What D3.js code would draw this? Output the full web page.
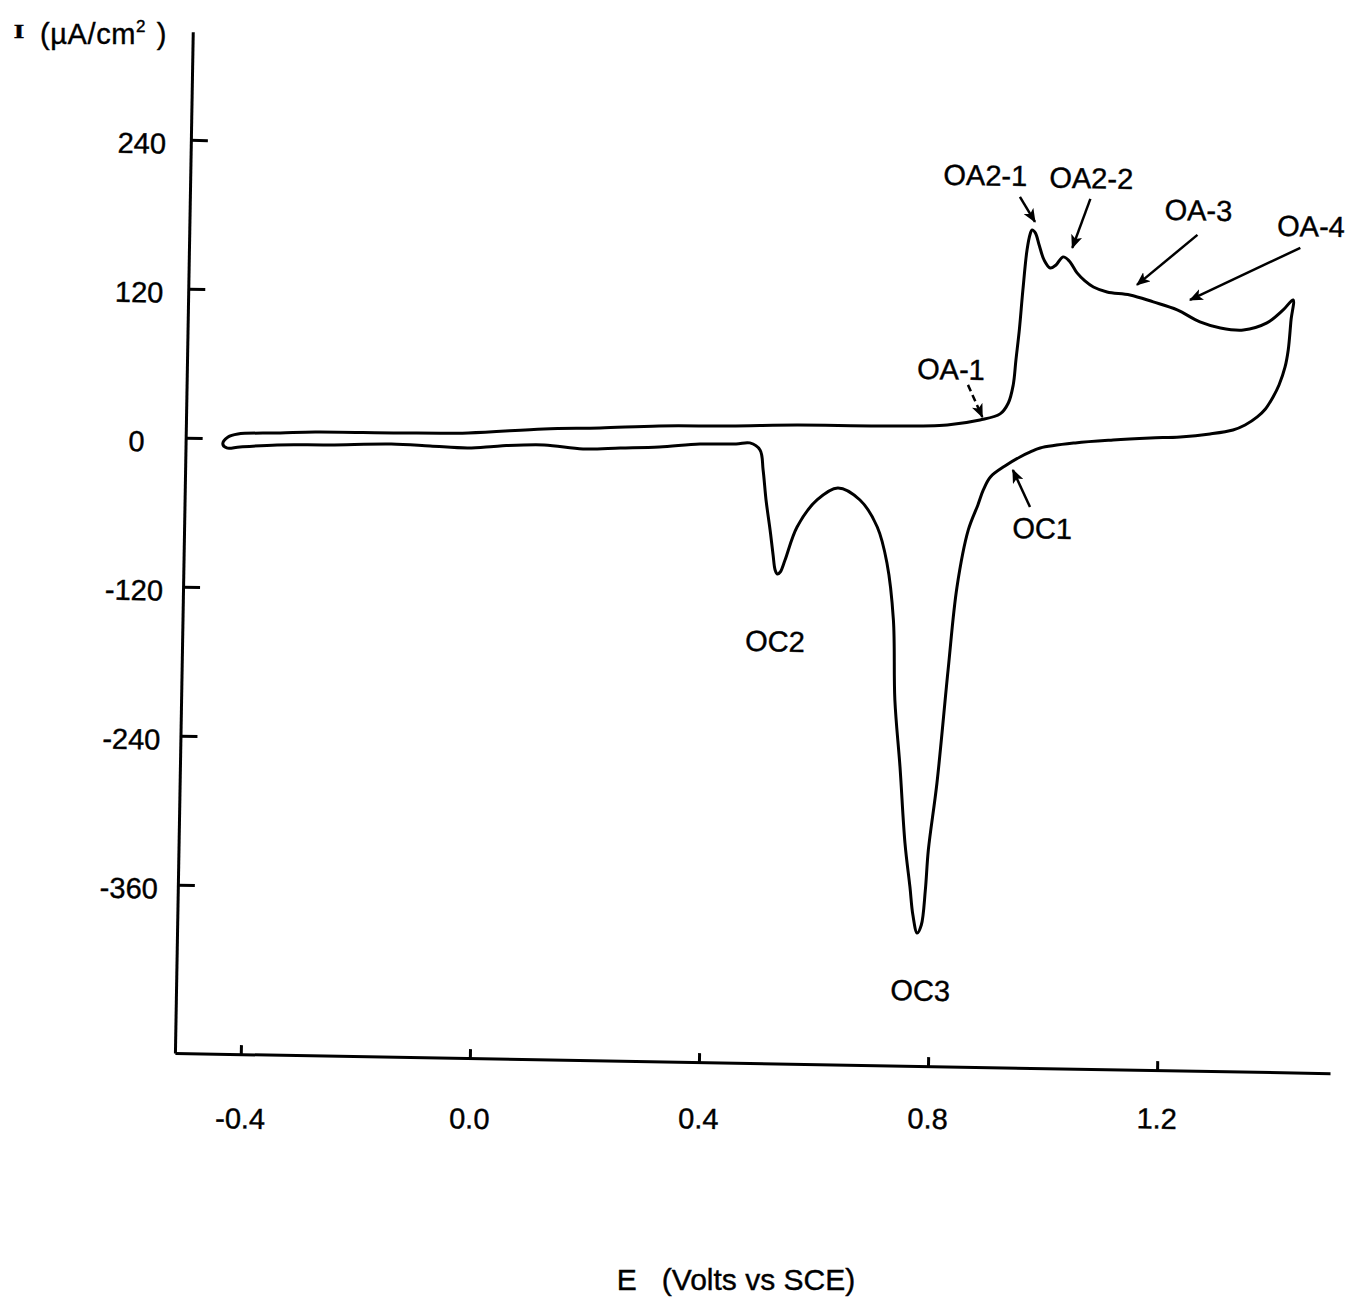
<!DOCTYPE html>
<html>
<head>
<meta charset="utf-8">
<script src="https://cdn.jsdelivr.net/npm/d3@7"></script>
<style>
  body { margin: 0; background: #fff; }
  text { font-family: "Liberation Sans", Arial, Helvetica, sans-serif; fill: #000; stroke: #000; stroke-width: 0.4px; }
</style>
</head>
<body>
<svg id="chart" width="1351" height="1300"></svg>
<script>
// Cyclic voltammogram, current density I (µA/cm²) against potential E (V vs SCE).
// Anodic sweep (upper branch), from the negative limit up to the switching potential.
const potentialFwd = [-0.450, -0.441, -0.424, -0.350, -0.289, -0.141, -0.022, 0.110, 0.208, 0.311,
  0.435, 0.552, 0.697, 0.814, 0.871, 0.906, 0.920, 0.928, 0.932, 0.937,
  0.942, 0.948, 0.953, 0.956, 0.962, 0.969, 0.978, 0.989, 0.999, 1.011,
  1.022, 1.036, 1.050, 1.065, 1.089, 1.129, 1.170, 1.212, 1.252, 1.288,
  1.328, 1.369, 1.397, 1.414];
const currentFwd = [-4.4, 1.3, 3.8, 5.2, 6.5, 6.9, 7.9, 12.2, 13.8, 16.2,
  17.2, 18.9, 19.3, 21.1, 25.5, 30.7, 39.6, 54.2, 74.4, 98.6,
  130.8, 163.1, 176.0, 179.3, 176.9, 167.3, 155.3, 148.9, 151.4, 158.0,
  154.8, 145.3, 139.0, 134.2, 130.4, 128.3, 123.0, 116.9, 107.6, 103.0,
  101.7, 107.7, 118.4, 126.6];

// Cathodic sweep (lower branch), back from the switching potential.
const potentialRev = [1.411, 1.407, 1.402, 1.392, 1.382, 1.369, 1.355, 1.334, 1.313, 1.273,
  1.221, 1.169, 1.104, 1.038, 0.977, 0.960, 0.942, 0.916, 0.891, 0.879,
  0.870, 0.854, 0.836, 0.823, 0.807, 0.794, 0.790, 0.784, 0.777, 0.769,
  0.763, 0.753, 0.742, 0.731, 0.726, 0.713, 0.695, 0.664, 0.625, 0.589,
  0.555, 0.535, 0.527, 0.522, 0.518, 0.514, 0.508, 0.500, 0.494, 0.488,
  0.470, 0.446, 0.383, 0.312, 0.244, 0.179, 0.111, 0.034, -0.022, -0.088,
  -0.156, -0.263, -0.355, -0.420, -0.443];
const currentRev = [110.4, 86.2, 72.5, 57.9, 48.2, 38.4, 31.9, 25.2, 21.0, 17.5,
  14.7, 13.4, 11.3, 8.4, 3.8, 0.5, -3.7, -11.2, -20.2, -30.8,
  -42.9, -63.2, -109.3, -176.2, -267.4, -321.5, -353.7, -382.0, -388.5, -374.1,
  -351.5, -316.2, -255.0, -201.2, -136.7, -90.9, -62.1, -40.6, -31.2, -41.2,
  -63.2, -90.0, -99.7, -101.3, -98.1, -86.1, -66.0, -41.9, -17.8, -1.7,
  3.8, 2.8, 2.2, -0.7, -2.1, -3.4, -0.7, -2.1, -4.2, -3.1,
  -2.1, -3.7, -4.5, -6.6, -7.6];

// Axes
const xTicks = [-0.4, 0.0, 0.4, 0.8, 1.2];
const xTickLabels = ["-0.4", "0.0", "0.4", "0.8", "1.2"];
const yTicks = [240, 120, 0, -120, -240, -360];
const yTickLabels = ["240", "120", "0", "-120", "-240", "-360"];
const xDomain = [-0.515, 1.502];
const yDomain = [-495.5, 327];

// Peak labels, their positions (E, I) and the arrows pointing at the features
const peakNames  = ["OA2-1", "OA2-2", "OA-3", "OA-4", "OA-1", "OC1", "OC2", "OC3"];
const peakLabelE = [0.873, 1.058, 1.246, 1.443, 0.819, 0.983, 0.520, 0.784];
const peakLabelI = [222.9, 222.0, 197.7, 186.4, 66.2, -60.6, -155.3, -434.4];
const arrowFromE = [0.934, 1.057, 1.245, 1.425, 0.849, 0.961, null, null];
const arrowFromI = [205.7, 205.1, 177.6, 168.6, 53.6, -43.8, null, null];
const arrowToE   = [0.961, 1.027, 1.141, 1.234, 0.875, 0.930, null, null];
const arrowToI   = [185.8, 165.4, 136.5, 125.1, 28.0, -14.3, null, null];
const arrowDashed = [false, false, false, false, true, false, false, false];

const svg = d3.select("#chart");

// The whole plot frame sits at a slight clockwise tilt.
const tiltDeg = 1;
const tilt = tiltDeg * Math.PI / 180;
const frame = svg.append("g").attr("transform", `translate(177,1053) rotate(${tiltDeg})`);

const x = d3.scaleLinear().domain(xDomain).range([-2.07, 1153.2]);
const y = d3.scaleLinear().domain(yDomain).range([0, -1021.3]);

const axisStroke = 3;

// x axis
const xAxis = frame.append("g")
  .call(d3.axisBottom(x)
    .tickValues(xTicks)
    .tickFormat((d, i) => xTickLabels[i])
    .tickSizeInner(-9)
    .tickSizeOuter(0)
    .tickPadding(44));
xAxis.select(".domain").attr("stroke", "#000").attr("stroke-width", axisStroke);
xAxis.selectAll(".tick line").attr("stroke", "#000").attr("stroke-width", axisStroke);
// keep the potential labels on one level line despite the tilt
xAxis.selectAll(".tick text")
  .attr("font-size", 29)
  .attr("font-family", null)
  .attr("y", d => 55 - x(d) * Math.tan(tilt));

// y axis
const yAxis = frame.append("g")
  .attr("transform", `translate(${x.range()[0]},0)`)
  .call(d3.axisLeft(y)
    .tickValues(yTicks)
    .tickFormat((d, i) => yTickLabels[i])
    .tickSizeInner(-17)
    .tickSizeOuter(0)
    .tickPadding(0));
yAxis.select(".domain").attr("stroke", "#000").attr("stroke-width", axisStroke);
yAxis.selectAll(".tick line").attr("stroke", "#000").attr("stroke-width", axisStroke);
yAxis.selectAll(".tick text")
  .attr("font-size", 29)
  .attr("font-family", null)
  .attr("text-anchor", "middle")
  .attr("x", -49)
  .attr("dy", "0.47em");

// Voltammogram loop
const loop = potentialFwd.map((e, i) => [e, currentFwd[i]])
  .concat(potentialRev.map((e, i) => [e, currentRev[i]]));

const line = d3.line()
  .x(d => x(d[0]))
  .y(d => y(d[1]))
  .curve(d3.curveCatmullRomClosed.alpha(0.5));

frame.append("path")
  .datum(loop)
  .attr("d", line)
  .attr("fill", "none")
  .attr("stroke", "#000")
  .attr("stroke-width", 3)
  .attr("stroke-linejoin", "round");

// Arrowhead marker
svg.append("defs").append("marker")
  .attr("id", "head")
  .attr("viewBox", "0 0 12 10")
  .attr("refX", 11)
  .attr("refY", 5)
  .attr("markerUnits", "userSpaceOnUse")
  .attr("markerWidth", 14)
  .attr("markerHeight", 12)
  .attr("orient", "auto")
  .append("path")
  .attr("d", "M0,0 L12,5 L0,10 L3,5 Z")
  .attr("fill", "#000");

// Annotations
const notes = frame.append("g");
peakNames.forEach((name, i) => {
  notes.append("text")
    .attr("x", x(peakLabelE[i]))
    .attr("y", y(peakLabelI[i]))
    .attr("dy", "0.36em")
    .attr("text-anchor", "middle")
    .attr("font-size", 29)
    .text(name);
  if (arrowFromE[i] !== null) {
    notes.append("line")
      .attr("x1", x(arrowFromE[i]))
      .attr("y1", y(arrowFromI[i]))
      .attr("x2", x(arrowToE[i]))
      .attr("y2", y(arrowToI[i]))
      .attr("stroke", "#000")
      .attr("stroke-width", 2.5)
      .attr("stroke-dasharray", arrowDashed[i] ? "7,4" : null)
      .attr("marker-end", "url(#head)");
  }
});

// Axis titles
const yTitle = svg.append("g");
yTitle.append("text")
  .attr("transform", "translate(19,38) scale(1.5,1)")
  .attr("text-anchor", "middle")
  .style("font-family", "'Liberation Serif', 'Times New Roman', serif")
  .attr("font-size", 18)
  .attr("font-weight", "bold")
  .text("I");
const yUnits = yTitle.append("text")
  .attr("x", 40)
  .attr("y", 44)
  .attr("font-size", 29)
  .attr("letter-spacing", 0.6);
yUnits.append("tspan").text("(µA/cm");
yUnits.append("tspan").attr("font-size", 17).attr("dy", -12).text("2");
yUnits.append("tspan").attr("dy", 12).attr("dx", 2).text(" )");

svg.append("text")
  .attr("x", 736)
  .attr("y", 1290)
  .attr("text-anchor", "middle")
  .attr("font-size", 30)
  .style("white-space", "pre")
  .text("E   (Volts vs SCE)");
</script>
</body>
</html>
